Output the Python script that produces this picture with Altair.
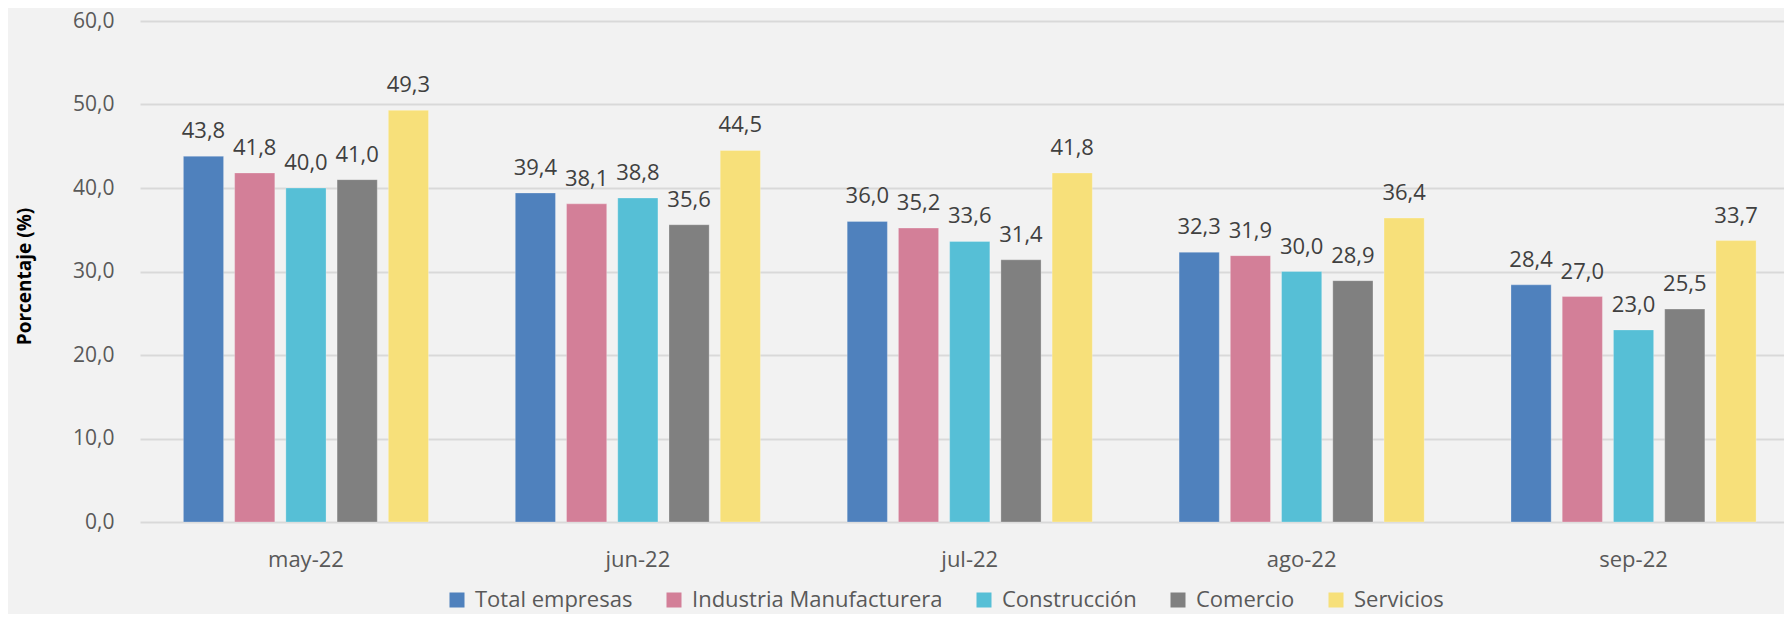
import altair as alt
import pandas as pd

months = ["may-22", "jun-22", "jul-22", "ago-22", "sep-22"]
series = ["Total empresas", "Industria Manufacturera", "Construcción", "Comercio", "Servicios"]
total_empresas = [43.8, 39.4, 36.0, 32.3, 28.4]
industria = [41.8, 38.1, 35.2, 31.9, 27.0]
construccion = [40.0, 38.8, 33.6, 30.0, 23.0]
comercio = [41.0, 35.6, 31.4, 28.9, 25.5]
servicios = [49.3, 44.5, 41.8, 36.4, 33.7]
colors = ["#4F81BD", "#D37F98", "#56BFD6", "#808080", "#F7E07A"]
y_ticks = [0, 10, 20, 30, 40, 50, 60]

values = [total_empresas, industria, construccion, comercio, servicios]
rows = []
for s, vals in zip(series, values):
    for m, v in zip(months, vals):
        rows.append({"mes": m, "serie": s, "valor": v})
df = pd.DataFrame(rows)

FONT = "Open Sans"

x = alt.X("mes:N", sort=months, title=None,
          scale=alt.Scale(paddingInner=0, paddingOuter=0, range=[0, 1659.5]),
          axis=alt.Axis(labelAngle=0, labelFontSize=22, labelColor="#595959",
                        labelBaseline="alphabetic", labelPadding=44,
                        ticks=False, domain=False, labelFont=FONT))
xo = alt.XOffset("serie:N", sort=series,
                 scale=alt.Scale(paddingInner=0.2157, paddingOuter=0.847))
y = alt.Y("valor:Q", title="Porcentaje (%)",
          scale=alt.Scale(domain=[0, 60], nice=False),
          axis=alt.Axis(values=y_ticks, labelExpr="replace(format(datum.value, '.1f'), '.', ',')",
                        labelFontSize=21, labelColor="#595959", labelPadding=26,
                        ticks=False, domain=False, grid=True, gridColor="#D9D9D9",
                        gridWidth=2, labelFont=FONT,
                        titleFont=FONT, titleFontSize=19, titleFontWeight="bold",
                        titleColor="#000000", titleAngle=270, titleAlign="center",
                        titleBaseline="middle", titleX=-116, titleY=255))
color = alt.Color("serie:N", sort=series, scale=alt.Scale(domain=series, range=colors),
                  legend=alt.Legend(title=None, orient="none", direction="horizontal",
                                    legendX=306, legendY=568, symbolType="square",
                                    symbolSize=225, symbolStrokeWidth=0, labelOffset=7,
                                    columnPadding=30, labelFontSize=22, labelColor="#595959",
                                    labelFont=FONT, labelLimit=0, padding=0))

bars = alt.Chart(df).mark_bar(stroke="#FFFFFF", strokeOpacity=0.25, strokeWidth=1).encode(
    x=x, xOffset=xo, y=y, color=color)

labels = alt.Chart(df).transform_calculate(
    lbl="replace(format(datum.valor, '.1f'), '.', ',')"
).mark_text(baseline="alphabetic", dy=-18, fontSize=22, color="#404040", font=FONT).encode(
    x=alt.X("mes:N", sort=months), xOffset=alt.XOffset("serie:N", sort=series),
    y="valor:Q", text="lbl:N")

chart = alt.layer(bars, labels).properties(
    width=1644, height=501, background="#F2F2F2",
    autosize=alt.AutoSizeParams(type="none"),
    padding={"left": 132, "top": 13, "right": 0, "bottom": 92},
).configure_view(strokeWidth=0)

chart.save("out.html", embed_options={"renderer": "svg", "actions": False})
